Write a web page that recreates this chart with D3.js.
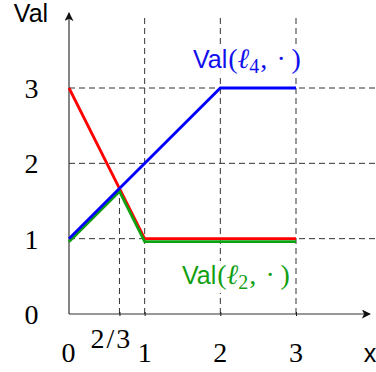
<!DOCTYPE html>
<html>
<head>
<meta charset="utf-8">
<script src="https://cdn.jsdelivr.net/npm/d3@7"></script>
<style>
  body { margin: 0; background: #fff; }
  svg { display: block; }
</style>
</head>
<body>
<svg width="376" height="372"></svg>
<script>
// data
var xTicks = [2/3, 1, 2, 3],
    xTickLabels = ["2/3", "1", "2", "3"],
    yTicks = [1, 2, 3],
    redPts = [[0, 3], [1, 1], [3, 1]],
    bluePts = [[0, 1], [2, 3], [3, 3]],
    greenPts = [[0, 1], [2/3, 5/3], [1, 1], [3, 1]];

var svg = d3.select("svg");

var x = d3.scaleLinear().domain([0, 3]).range([69, 296]),
    y = d3.scaleLinear().domain([0, 3]).range([314, 88]);

var serif = "Liberation Serif",
    sans = "Liberation Sans";

svg.append("defs").append("marker")
    .attr("id", "arr")
    .attr("viewBox", "0 0 10 10")
    .attr("refX", 9).attr("refY", 5)
    .attr("markerWidth", 9).attr("markerHeight", 9)
    .attr("markerUnits", "userSpaceOnUse")
    .attr("orient", "auto")
  .append("path")
    .attr("d", "M0,0 L10,5 L0,10 L2.5,5 Z")
    .attr("fill", "#111");

// grid (dashed)
var grid = svg.append("g")
    .attr("stroke", "#333")
    .attr("stroke-width", 1)
    .attr("stroke-dasharray", "6,4");

grid.selectAll(".h").data(yTicks).enter().append("line")
    .attr("x1", x(0)).attr("x2", 376)
    .attr("y1", function(d) { return y(d); })
    .attr("y2", function(d) { return y(d); });

grid.selectAll(".v").data(xTicks).enter().append("line")
    .attr("x1", function(d) { return x(d); })
    .attr("x2", function(d) { return x(d); })
    .attr("y1", y(0))
    .attr("y2", function(d) { return d < 1 ? y(5/3) : 14; });

// axes
svg.append("g")
    .attr("transform", "translate(0," + y(0) + ")")
    .call(d3.axisBottom(x).tickValues(xTicks).tickSize(4).tickSizeOuter(0).tickFormat(""))
    .call(function(g) { g.select(".domain").remove(); })
    .selectAll("line").attr("transform", "translate(0,-2)").attr("stroke", "#111");

svg.append("line")
    .attr("x1", x(0)).attr("y1", y(0)).attr("x2", 370).attr("y2", y(0))
    .attr("stroke", "#333").attr("stroke-width", 1.2)
    .attr("marker-end", "url(#arr)");
svg.append("line")
    .attr("x1", x(0)).attr("y1", y(0)).attr("x2", x(0)).attr("y2", 13)
    .attr("stroke", "#333").attr("stroke-width", 1.2)
    .attr("marker-end", "url(#arr)");

// series
var line = d3.line().x(function(d) { return x(d[0]); }).y(function(d) { return y(d[1]); });

svg.append("path").datum(redPts)
    .attr("d", line).attr("fill", "none")
    .attr("stroke", "#ff0000").attr("stroke-width", 2.8);
svg.append("path").datum(greenPts)
    .attr("d", line).attr("fill", "none")
    .attr("transform", "translate(0,3)")
    .attr("stroke", "#11a011").attr("stroke-width", 2.8);
svg.append("path").datum(bluePts)
    .attr("d", line).attr("fill", "none")
    .attr("stroke", "#0000ff").attr("stroke-width", 2.8);

// tick labels
svg.selectAll(".yl").data([0].concat(yTicks)).enter().append("text")
    .attr("x", 31.5)
    .attr("y", function(d) { return y(d) + 10; })
    .attr("text-anchor", "middle")
    .attr("font-family", serif).attr("font-size", 28)
    .text(function(d) { return d; });

svg.append("text")
    .attr("x", x(0) - 0.5).attr("y", 362)
    .attr("text-anchor", "middle")
    .attr("font-family", serif).attr("font-size", 28)
    .text("0");

svg.selectAll(".xl").data(xTicks).enter().append("text")
    .attr("x", function(d, i) { return i == 0 ? x(d) - 8 : x(d); })
    .attr("y", function(d, i) { return i == 0 ? 348 : 362; })
    .attr("text-anchor", "middle")
    .attr("letter-spacing", function(d, i) { return i == 0 ? 2 : 0; })
    .attr("font-family", serif).attr("font-size", 28)
    .text(function(d, i) { return xTickLabels[i]; });

svg.append("text")
    .attr("x", 370).attr("y", 362)
    .attr("text-anchor", "middle")
    .attr("font-family", sans).attr("font-size", 25)
    .text("x");

svg.append("text")
    .attr("x", 31).attr("y", 22)
    .attr("text-anchor", "middle")
    .attr("font-family", sans).attr("font-size", 25)
    .text("Val");

// series labels
function valLabel(x0, base, sub, color) {
  var g = svg.append("g");
  var bg = g.append("rect").attr("fill", "#fff").attr("opacity", 0.9);
  var t = g.append("text")
      .attr("x", x0).attr("y", base)
      .attr("fill", color)
      .attr("font-family", serif)
      .attr("font-size", 28);
  t.append("tspan").attr("font-family", sans).attr("font-size", 25).text("Val");
  t.append("tspan").attr("dx", 1).text("(");
  t.append("tspan").attr("font-style", "italic").text("\u2113");
  t.append("tspan").attr("font-size", 20).attr("dy", 5).text(sub);
  t.append("tspan").attr("dy", -5).attr("dx", 1).text(",\u2004\u00b7\u2009)");
  var b = t.node().getBBox();
  bg.attr("x", b.x - 3).attr("y", b.y + 2).attr("width", b.width + 6).attr("height", b.height - 2);
}
valLabel(193, 68, "4", "#1010ee");
valLabel(182, 284, "2", "#11a011");
</script>
</body>
</html>
